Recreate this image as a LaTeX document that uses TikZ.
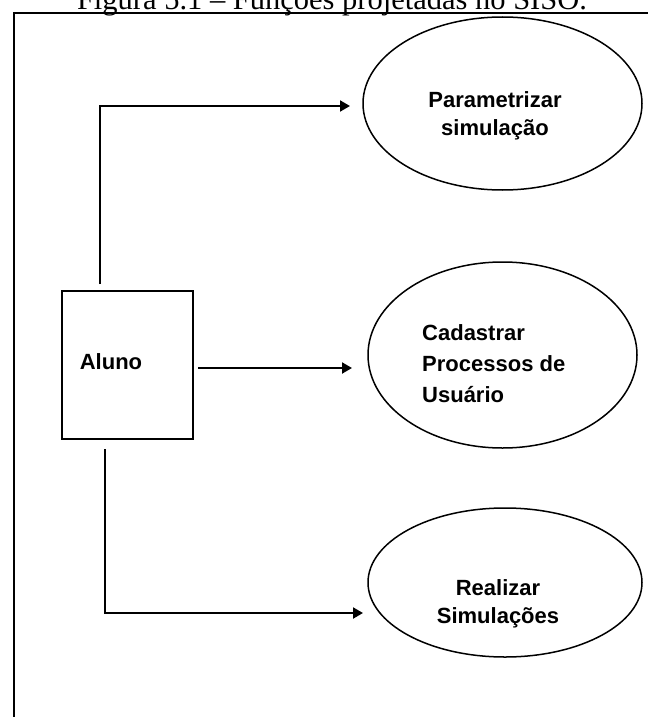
\documentclass[tikz,border=0pt]{standalone}
\usepackage{fontspec}
\setmainfont{Liberation Serif}
\newfontfamily\diagfont{Liberation Sans}
\usetikzlibrary{shapes.geometric,arrows.meta}

\tikzset{
  usecase/.style={ellipse, draw, line width=1.5pt, inner sep=0pt},
  actorbox/.style={rectangle, draw, line width=2pt, inner sep=0pt},
  lbl/.style={inner sep=0pt, font=\diagfont\bfseries\fontsize{22}{28}\selectfont},
  conn/.style={line width=2pt, -{Triangle[length=10pt,width=11pt]}},
  frameline/.style={line width=1.5pt}
}

\begin{document}
\begin{tikzpicture}[x=1pt,y=-1pt]
  \useasboundingbox (0,0) rectangle (648,717);

  % caption
  \node[anchor=base, inner sep=0pt, font=\fontsize{30.5}{34}\selectfont]
    (caption) at (332,10) {Figura 5.1 – Funções projetadas no SISO.};

  % frame
  \draw[frameline] (14,717) -- (14,13) -- (648,13);

  % actor
  \node[actorbox, minimum width=131pt, minimum height=148pt] (aluno) at (127.5,365) {};
  \node[lbl] (alunotxt) at (111,362) {Aluno};

  % use cases
  \node[usecase, minimum width=279pt, minimum height=173pt] (uc1) at (502.5,103.5) {};
  \node[usecase, minimum width=269pt, minimum height=186pt] (uc2) at (502.5,355) {};
  \node[usecase, minimum width=274pt, minimum height=149pt] (uc3) at (505,582.5) {};

  \node[lbl, align=center] (uc1txt) at (495,115.5) {Parametrizar\\simulação};
  \node[lbl, align=left, anchor=west,
        font=\diagfont\bfseries\fontsize{22}{31}\selectfont]
    (uc2txt) at (422,363.4) {Cadastrar\\Processos de\\Usuário};
  \node[lbl, align=center] (uc3txt) at (498,603.5) {Realizar\\Simulações};

  % arrow end points
  \coordinate (tip1) at (350,106);
  \coordinate (tip2) at (352,368);
  \coordinate (tip3) at (363,613);

  % connectors
  \draw[conn, shorten <=6pt] ([xshift=-27.5pt]aluno.north) |- (tip1);
  \draw[conn, shorten <=4pt] ([yshift=-3pt]aluno.east) -- (tip2);
  \draw[conn, shorten <=9pt] ([xshift=-22.5pt]aluno.south) |- (tip3);
\end{tikzpicture}
\end{document}
